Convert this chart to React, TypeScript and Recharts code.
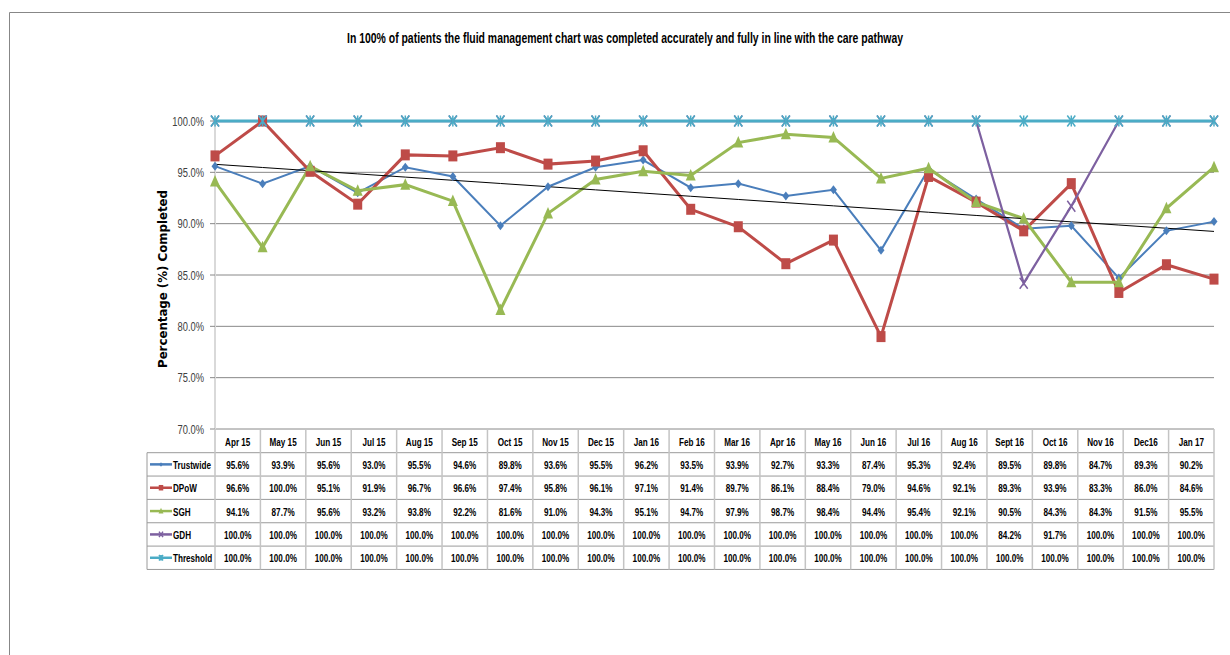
import React from 'react';
import { ComposedChart, Line, XAxis, YAxis, CartesianGrid } from 'recharts';

const months = [
  'Apr 15', 'May 15', 'Jun 15', 'Jul 15', 'Aug 15', 'Sep 15', 'Oct 15', 'Nov 15', 'Dec 15', 'Jan 16', 'Feb 16',
  'Mar 16', 'Apr 16', 'May 16', 'Jun 16', 'Jul 16', 'Aug 16', 'Sept 16', 'Oct 16', 'Nov 16', 'Dec16', 'Jan 17',
];
const trustwide = [95.6, 93.9, 95.6, 93.0, 95.5, 94.6, 89.8, 93.6, 95.5, 96.2, 93.5, 93.9, 92.7, 93.3, 87.4, 95.3, 92.4, 89.5, 89.8, 84.7, 89.3, 90.2];
const dpow = [96.6, 100.0, 95.1, 91.9, 96.7, 96.6, 97.4, 95.8, 96.1, 97.1, 91.4, 89.7, 86.1, 88.4, 79.0, 94.6, 92.1, 89.3, 93.9, 83.3, 86.0, 84.6];
const sgh = [94.1, 87.7, 95.6, 93.2, 93.8, 92.2, 81.6, 91.0, 94.3, 95.1, 94.7, 97.9, 98.7, 98.4, 94.4, 95.4, 92.1, 90.5, 84.3, 84.3, 91.5, 95.5];
const gdh = [100, 100, 100, 100, 100, 100, 100, 100, 100, 100, 100, 100, 100, 100, 100, 100, 100, 84.2, 91.7, 100, 100, 100];
const threshold = [100, 100, 100, 100, 100, 100, 100, 100, 100, 100, 100, 100, 100, 100, 100, 100, 100, 100, 100, 100, 100, 100];
const yTicks = [70, 75, 80, 85, 90, 95, 100];

const TITLE = 'In 100% of patients the fluid management chart was completed accurately and fully in line with the care pathway';
const FONT = "'Liberation Sans', Arial, sans-serif";

// linear trendline of Trustwide (least squares, like Excel's)
const n = trustwide.length;
const mx = (n - 1) / 2;
const my = trustwide.reduce((a, b) => a + b, 0) / n;
let sxy = 0;
let sxx = 0;
trustwide.forEach((v, i) => {
  sxy += (i - mx) * (v - my);
  sxx += (i - mx) * (i - mx);
});
const slope = sxy / sxx;

const data = months.map((m, i) => ({
  month: m,
  trustwide: trustwide[i],
  dpow: dpow[i],
  sgh: sgh[i],
  gdh: gdh[i],
  threshold: threshold[i],
  trend: my + slope * (i - mx),
}));

// condensed text: Liberation Sans squeezed horizontally to look like Calibri
const NText = ({ x, y, anchor = 'middle', size = 11, bold = true, sx = 0.74, fill = '#000', children }: any) => (
  <text
    transform={`translate(${x},${y}) scale(${sx},1)`}
    textAnchor={anchor}
    dominantBaseline="central"
    fontFamily={FONT}
    fontSize={size}
    fontWeight={bold ? 'bold' : 'normal'}
    fill={fill}
  >
    {children}
  </text>
);

type MarkerKind = 'diamond' | 'square' | 'triangle' | 'x' | 'star';

const Marker = ({ kind, cx, cy, color, s = 1 }: { kind: MarkerKind; cx: number; cy: number; color: string; s?: number }) => {
  if (kind === 'diamond')
    return <polygon points={`${cx},${cy - 4.5 * s} ${cx + 3.5 * s},${cy} ${cx},${cy + 4.5 * s} ${cx - 3.5 * s},${cy}`} fill={color} />;
  if (kind === 'square') return <rect x={cx - 4.5 * s} y={cy - 5.5 * s} width={9 * s} height={11 * s} fill={color} />;
  if (kind === 'triangle')
    return <polygon points={`${cx},${cy - 6.5 * s} ${cx + 5 * s},${cy + 5 * s} ${cx - 5 * s},${cy + 5 * s}`} fill={color} />;
  const d = `M${cx - 4 * s},${cy - 5.5 * s}L${cx + 4 * s},${cy + 5.5 * s}M${cx + 4 * s},${cy - 5.5 * s}L${cx - 4 * s},${cy + 5.5 * s}`;
  if (kind === 'x') return <path d={d} stroke={color} strokeWidth={1.5} fill="none" />;
  return <path d={`${d}M${cx},${cy - 5.5 * s}L${cx},${cy + 5.5 * s}`} stroke={color} strokeWidth={1.5} fill="none" />;
};

const series = [
  { key: 'trustwide', name: 'Trustwide', values: trustwide, color: '#4A7EBB', width: 2, marker: 'diamond' as MarkerKind },
  { key: 'dpow', name: 'DPoW', values: dpow, color: '#BE4B48', width: 3, marker: 'square' as MarkerKind },
  { key: 'sgh', name: 'SGH', values: sgh, color: '#98B954', width: 3, marker: 'triangle' as MarkerKind },
  { key: 'gdh', name: 'GDH', values: gdh, color: '#7D60A0', width: 2.25, marker: 'x' as MarkerKind },
  { key: 'threshold', name: 'Threshold', values: threshold, color: '#4BACC6', width: 3, marker: 'star' as MarkerKind },
];

// plot geometry (page pixels)
const PLOT_L = 215;
const PLOT_R = 1214;
const PLOT_T = 121;
const PLOT_B = 429;
const TABLE_L = 147;
const HEAD_B = 452.7;
const ROW_H = 23.35;
const colW = (PLOT_R - PLOT_L) / months.length;

const DataTable = () => {
  const bottom = HEAD_B + ROW_H * series.length;
  const lines: React.ReactNode[] = [];
  for (let r = 0; r <= series.length; r++) {
    const y = HEAD_B + r * ROW_H;
    lines.push(<line key={`h${r}`} x1={TABLE_L} x2={PLOT_R} y1={y} y2={y} stroke="#9a9a9a" strokeWidth={1} />);
  }
  for (let c = 0; c <= months.length; c++) {
    const x = PLOT_L + c * colW;
    lines.push(<line key={`v${c}`} x1={x} x2={x} y1={PLOT_B} y2={bottom} stroke="#c4c4c4" strokeWidth={1.5} />);
  }
  lines.push(<line key="vl" x1={TABLE_L} x2={TABLE_L} y1={HEAD_B} y2={bottom} stroke="#9a9a9a" strokeWidth={1} />);
  return (
    <g>
      {lines}
      {months.map((m, c) => (
        <NText key={`m${c}`} x={PLOT_L + (c + 0.5) * colW} y={(PLOT_B + HEAD_B) / 2 + 1}>
          {m}
        </NText>
      ))}
      {series.map((s, r) => {
        const cy = HEAD_B + (r + 0.5) * ROW_H;
        return (
          <g key={s.key}>
            <line x1={150} x2={172} y1={cy} y2={cy} stroke={s.color} strokeWidth={2.5} />
            <Marker kind={s.marker} cx={161} cy={cy} color={s.color} s={0.5} />
            <NText x={173} y={cy + 0.5} anchor="start">
              {s.name}
            </NText>
            {s.values.map((v, c) => (
              <NText key={c} x={PLOT_L + (c + 0.5) * colW} y={cy + 0.5}>
                {v.toFixed(1)}%
              </NText>
            ))}
          </g>
        );
      })}
    </g>
  );
};

const YTick = (p: any) => (
  <NText x={p.x} y={p.y} anchor="end" size={13} bold={false} sx={0.72} fill="#404040">
    {Number(p.payload.value).toFixed(1)}%
  </NText>
);

export default function App() {
  return (
    <div style={{ position: 'absolute', left: 0, top: 0, width: 1230, height: 655, background: '#fff', overflow: 'hidden' }}>
      <ComposedChart
        width={1230}
        height={655}
        data={data}
        margin={{ top: PLOT_T, right: 1230 - PLOT_R, bottom: 655 - PLOT_B, left: 0 }}
      >
        <CartesianGrid vertical={false} stroke="#888888" strokeWidth={1} />
        <XAxis dataKey="month" hide />
        <YAxis
          width={PLOT_L}
          domain={[70, 100]}
          ticks={yTicks}
          interval={0}
          axisLine={{ stroke: '#d9d9d9', strokeWidth: 2 }}
          tickLine={{ stroke: '#888888' }}
          tickSize={5}
          tickMargin={6}
          tick={YTick}
        />
        {series.map((s) => (
          <Line
            key={s.key}
            dataKey={s.key}
            name={s.name}
            stroke={s.color}
            strokeWidth={s.width}
            isAnimationActive={false}
            activeDot={false}
            dot={(p: any) => <Marker key={`${s.key}-${p.index}`} kind={s.marker} cx={p.cx} cy={p.cy} color={s.color} />}
          />
        ))}
        <Line dataKey="trend" stroke="#000" strokeWidth={1} dot={false} activeDot={false} isAnimationActive={false} />
      </ComposedChart>
      <svg width={1230} height={655} style={{ position: 'absolute', left: 0, top: 0, pointerEvents: 'none' }}>
        <path d="M9.5,655V12.5H1230" stroke="#878787" strokeWidth={1} fill="none" />
        <text
          x={625}
          y={43}
          textAnchor="middle"
          textLength={556}
          lengthAdjust="spacingAndGlyphs"
          fontFamily={FONT}
          fontWeight="bold"
          fontSize={14}
          fill="#000"
        >
          {TITLE}
        </text>
        <text
          transform="translate(167,279) rotate(-90)"
          textAnchor="middle"
          textLength={178}
          lengthAdjust="spacingAndGlyphs"
          fontFamily="'DejaVu Sans', Verdana, sans-serif"
          fontWeight="bold"
          fontSize={11.5}
          fill="#000"
        >
          Percentage (%) Completed
        </text>
        <DataTable />
      </svg>
    </div>
  );
}
